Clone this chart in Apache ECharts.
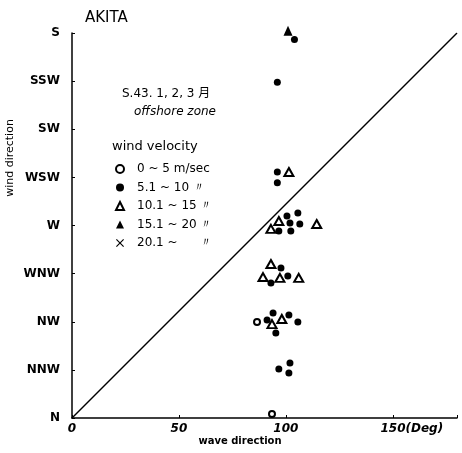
<!DOCTYPE html>
<html>
<head>
<meta charset="utf-8">
<script src="https://cdn.jsdelivr.net/npm/echarts@6/dist/echarts.min.js"></script>
<style>
html,body{margin:0;padding:0;background:#fff;}
#chart{width:462px;height:453px;}
</style>
</head>
<body>
<div id="chart"></div>
<script>
// ---- data ----
var yTickLabels = ['N','NNW','NW','WNW','W','WSW','SW','SSW','S'];
var xTickValues = [0, 50, 100, 150];
var velocityClasses = ['0 ~ 5 m/sec', '5.1 ~ 10 〃', '10.1 ~ 15 〃', '15.1 ~ 20 〃', '20.1 ~      〃'];
// [wave direction (deg), wind direction (deg, N=0 .. S=180)]
var calm0to5 = [[86.5,44.9],[93.5,1.9]];
var vel5to10 = [[104,177],[96,157],[96,115],[96,110],
  [100.5,94.4],[105.6,95.8],[101.9,91.2],[106.5,90.7],[96.7,87.4],[102.3,87.4],
  [97.7,70.1],[93,63.1],[100.9,66.4],
  [91.2,45.8],[94,49.1],[95.3,39.7],[101.4,48.2],[105.6,44.9],
  [96.7,22.9],[101.9,25.7],[101.4,21.0]];
var vel10to15 = [[101.4,115],
  [96.7,92.1],[93,88.4],[114.4,90.7],
  [93,72],[89.3,65.9],[97.2,65.5],[106,65.5],
  [93.5,43.9],[98.1,46.3]];
var vel15to20 = [[101,181]];
var vel20plus = [];
var diagonal = [[0,0],[180,180]];

var crossPath = 'path://M1,0L5,4L9,0L10,1L6,5L10,9L9,10L5,6L1,10L0,9L4,5L0,1Z';
var lblFont = 'DejaVu Sans';

var chart = echarts.init(document.getElementById('chart'));
chart.setOption({
  animation: false,
  backgroundColor: '#fff',
  grid: {left: 72, right: 5, top: 33, bottom: 35, containLabel: false},
  xAxis: {
    type: 'value', min: 0, max: 180, interval: 50,
    axisLine: {show: true, lineStyle: {color: '#000', width: 1.5}},
    axisTick: {show: true, inside: true, length: 3, lineStyle: {color: '#000'}},
    splitLine: {show: false},
    axisLabel: {
      color: '#000', fontFamily: lblFont, fontSize: 12, fontWeight: 'bold', fontStyle: 'italic', margin: 5,
      formatter: function (v) {
        if (v === 150) return '{p|}150{d|(Deg)}';
        return xTickValues.indexOf(v) >= 0 ? String(v) : '';
      },
      rich: {
        p: {width: 38},
        d: {fontFamily: lblFont, fontSize: 12, fontWeight: 'bold', fontStyle: 'italic', color: '#000'}
      }
    }
  },
  yAxis: {
    type: 'value', min: 0, max: 180, interval: 22.5,
    axisLine: {show: true, lineStyle: {color: '#000', width: 1.5}},
    axisTick: {show: true, inside: true, length: 3, lineStyle: {color: '#000'}},
    splitLine: {show: false},
    axisLabel: {
      color: '#000', fontFamily: lblFont, fontSize: 12, fontWeight: 'bold', margin: 12,
      formatter: function (v) { return yTickLabels[Math.round(v / 22.5)] || ''; }
    }
  },
  legend: {
    show: true, orient: 'vertical', left: 110, top: 158,
    itemWidth: 8, itemHeight: 8, itemGap: 6.5,
    data: velocityClasses,
    textStyle: {color: '#000', fontFamily: lblFont, fontSize: 12, padding: [0,0,0,8]},
    selectedMode: false
  },
  title: {
    text: 'AKITA', left: 80, top: 6,
    textStyle: {fontFamily: lblFont, fontSize: 15, fontWeight: 'normal', color: '#000'}
  },
  graphic: [
    {type: 'text', left: 122, top: 88, style: {text: 'S.43. 1, 2, 3 月', font: '12px "DejaVu Sans", "Noto Sans CJK JP"', fill: '#000'}},
    {type: 'text', left: 134, top: 106, style: {text: 'offshore zone', font: 'italic 12px "DejaVu Sans"', fill: '#000'}},
    {type: 'text', left: 112, top: 140, style: {text: 'wind velocity', font: '13px "DejaVu Sans"', fill: '#000'}},
    {type: 'text', x: 10, y: 158, rotation: Math.PI / 2, style: {text: 'wind direction', font: '11px "DejaVu Sans"', fill: '#000', align: 'center', verticalAlign: 'middle'}},
    {type: 'text', x: 240, y: 441, style: {text: 'wave direction', font: 'bold 10px "DejaVu Sans"', fill: '#000', align: 'center', verticalAlign: 'middle'}}
  ],
  series: [
    {type: 'line', data: diagonal, symbol: 'none', lineStyle: {color: '#000', width: 1.5}, silent: true, z: 1},
    {name: velocityClasses[0], type: 'scatter', data: calm0to5, symbol: 'emptyCircle', symbolSize: 6, clip: false,
      itemStyle: {color: '#000', borderColor: '#000', borderWidth: 1.5, opacity: 1}},
    {name: velocityClasses[1], type: 'scatter', data: vel5to10, symbol: 'circle', symbolSize: 7, clip: false,
      itemStyle: {color: '#000', opacity: 1}},
    {name: velocityClasses[2], type: 'scatter', data: vel10to15, symbol: 'emptyTriangle', symbolSize: [9, 8], clip: false,
      itemStyle: {color: '#000', borderColor: '#000', borderWidth: 1.5, opacity: 1}},
    {name: velocityClasses[3], type: 'scatter', data: vel15to20, symbol: 'triangle', symbolSize: [9, 10], clip: false,
      itemStyle: {color: '#000', opacity: 1}},
    {name: velocityClasses[4], type: 'scatter', data: vel20plus, symbol: crossPath, symbolSize: 9, clip: false,
      itemStyle: {color: '#000', opacity: 1}}
  ]
});
</script>
</body>
</html>
